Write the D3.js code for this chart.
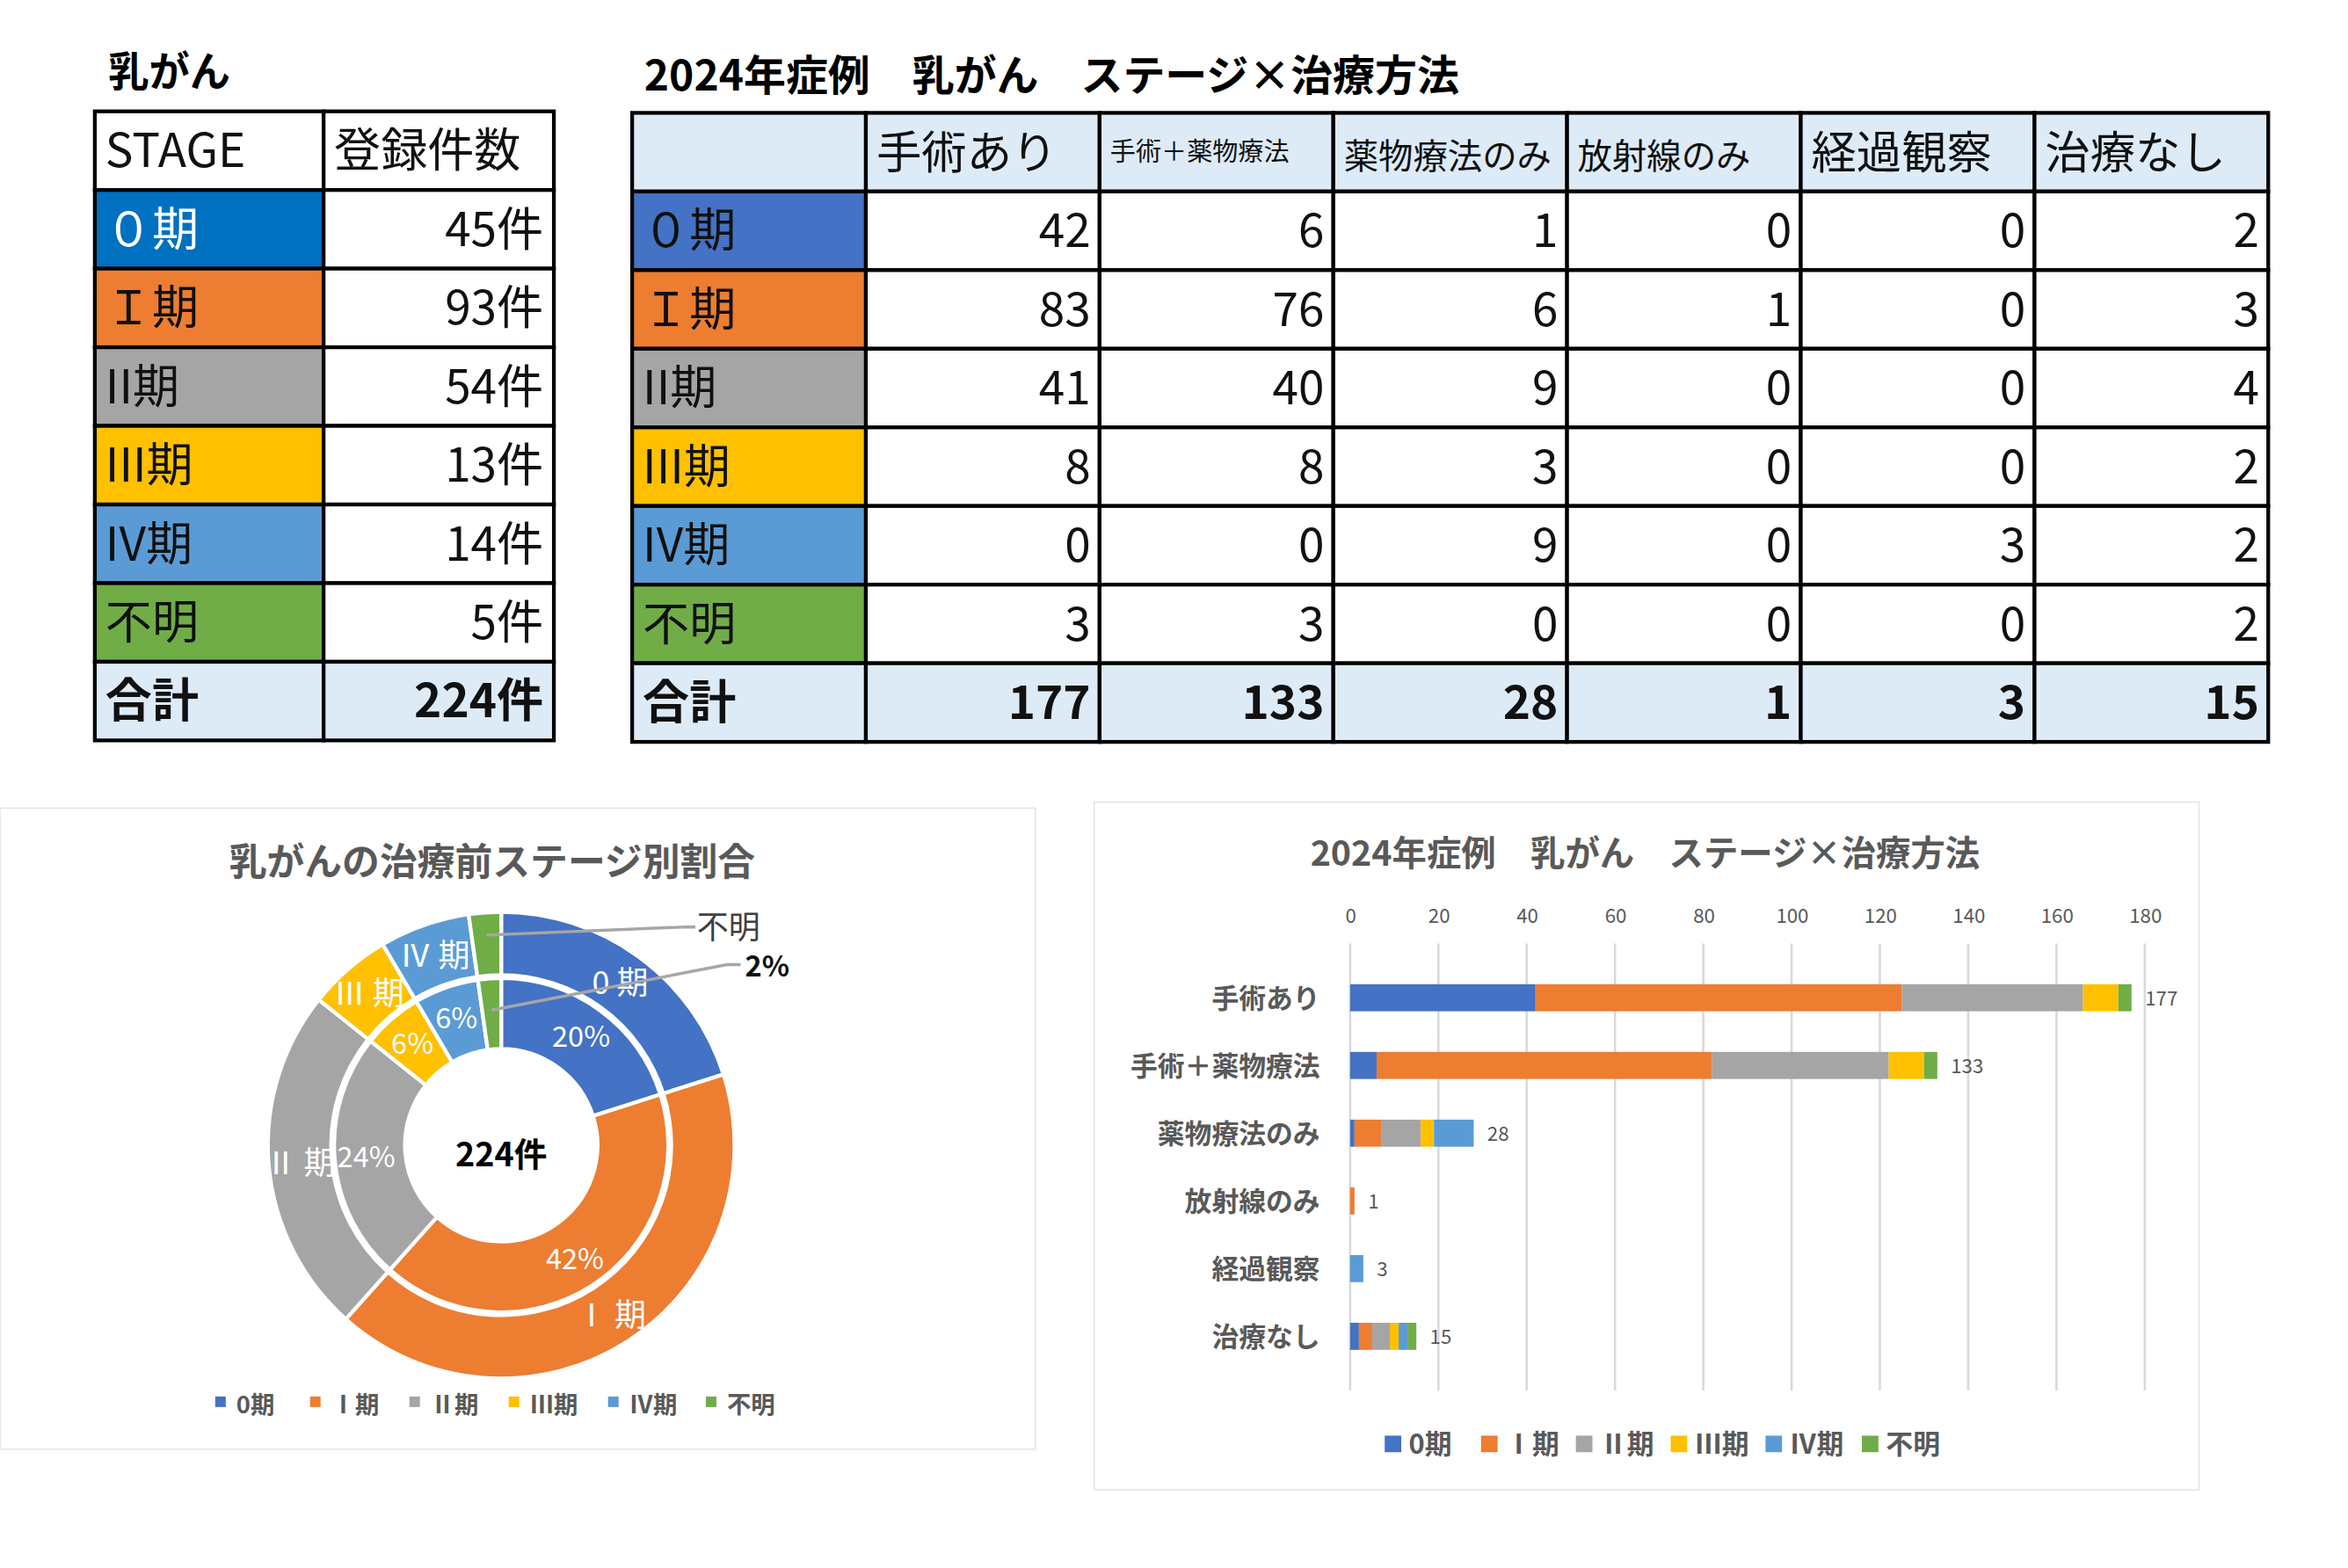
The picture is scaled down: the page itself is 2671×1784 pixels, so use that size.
<!DOCTYPE html>
<html><head><meta charset="utf-8">
<script src="https://cdn.jsdelivr.net/npm/d3@7"></script>
<style>body{margin:0;background:#fff}text{font-family:"Noto Sans CJK JP",sans-serif}</style>
</head><body><div id="chart"></div>
<script>
// data
const stages = ["0期", "Ⅰ期", "Ⅱ期", "Ⅲ期", "Ⅳ期", "不明"];
const stageCells = ["０期", "Ｉ期", "II期", "III期", "IV期", "不明"];
const stageCounts = [45, 93, 54, 13, 14, 5];
const treatments = ["手術あり", "手術＋薬物療法", "薬物療法のみ", "放射線のみ", "経過観察", "治療なし"];
// rows = stage, cols = treatment
const matrix = [
    [42, 6, 1, 0, 0, 2],
    [83, 76, 6, 1, 0, 3],
    [41, 40, 9, 0, 0, 4],
    [8, 8, 3, 0, 0, 2],
    [0, 0, 9, 0, 3, 2],
    [3, 3, 0, 0, 0, 2]
];
const pctLabels = ["20%", "42%", "24%", "6%", "6%", "2%"];
const xTicks = [0, 20, 40, 60, 80, 100, 120, 140, 160, 180];

const colors = ["#4472C4", "#ED7D31", "#A5A5A5", "#FFC000", "#5B9BD5", "#70AD47"];
const tableColors = ["#0070C0", "#ED7D31", "#A5A5A5", "#FFC000", "#5B9BD5", "#70AD47"];
const headBg = "#DDEBF7";

const width = 2671, height = 1784, k = width / 1560;
const svg = d3.select("#chart").append("svg").attr("width", width).attr("height", height);
const root = svg.append("g").attr("transform", `scale(${k})`);

// ---------- left table ----------
const lt = root.append("g");
lt.append("text").attr("x", 72).attr("y", 57).attr("font-size", 27).attr("font-weight", "bold").text("乳がん");
const lx = d3.scaleOrdinal().domain([0, 1]).range([63, 215]);
const rowY = d3.scaleLinear().domain([0, 8]).range([74, 492]);
const total = d3.sum(stageCounts);
const leftRows = [["STAGE", "登録件数", "#fff"]]
    .concat(stages.map((s, i) => [stageCells[i], stageCounts[i] + "件", tableColors[i]]))
    .concat([["合計", total + "件", headBg]]);
leftRows.forEach((r, i) => {
    const y0 = rowY(i), h = rowY(i + 1) - y0;
    const last = i === leftRows.length - 1;
    lt.append("rect").attr("x", 63).attr("y", y0).attr("width", 152).attr("height", h)
        .attr("fill", r[2]).attr("stroke", "#000").attr("stroke-width", 2.5);
    lt.append("rect").attr("x", 215).attr("y", y0).attr("width", 153).attr("height", h)
        .attr("fill", last ? headBg : "#fff").attr("stroke", "#000").attr("stroke-width", 2.5);
    const fw = last ? "bold" : "normal";
    lt.append("text").attr("x", 70).attr("y", y0 + h / 2 + 11).attr("font-size", 31).attr("font-weight", fw)
        .attr("fill", i === 1 ? "#fff" : "#111").text(r[0]);
    lt.append("text").attr("x", i === 0 ? 222 : 361).attr("y", y0 + h / 2 + 11).attr("font-size", 31)
        .attr("font-weight", fw).attr("text-anchor", i === 0 ? "start" : "end").attr("fill", "#111").text(r[1]);
});

// ---------- right table ----------
const rt = root.append("g");
rt.append("text").attr("x", 428).attr("y", 60).attr("font-size", 28).attr("font-weight", "bold")
    .text("2024年症例　乳がん　ステージ×治療方法");
const colX = d3.scaleLinear().domain([0, 7]).range([420, 1507]);
const rY = d3.scaleLinear().domain([0, 8]).range([75, 493]);
const totals = treatments.map((t, j) => d3.sum(matrix, r => r[j]));
for (let i = 0; i < 8; i++) {
    for (let c = 0; c < 7; c++) {
        const x0 = colX(c), y0 = rY(i), w = colX(c + 1) - x0, h = rY(i + 1) - y0;
        let fill = "#fff", txt = "", anchor = "end", fs = 31, fw = "normal", col = "#111";
        if (i === 0) { fill = headBg; if (c > 0) { txt = treatments[c - 1]; anchor = "start"; fs = c === 2 ? 17 : (c >= 3 && c <= 4 ? 23 : 30); } }
        else if (i === 7) { fill = headBg; fw = "bold"; txt = c === 0 ? "合計" : totals[c - 1]; if (c === 0) anchor = "start"; }
        else { if (c === 0) { fill = colors[i - 1]; txt = stageCells[i - 1]; anchor = "start"; } else txt = matrix[i - 1][c - 1]; }
        rt.append("rect").attr("x", x0).attr("y", y0).attr("width", w).attr("height", h)
            .attr("fill", fill).attr("stroke", "#000").attr("stroke-width", 2.5);
        if (txt !== "") rt.append("text").attr("x", anchor === "start" ? x0 + 7 : x0 + w - 6)
            .attr("y", y0 + h / 2 + (fs > 20 ? 11 : 6)).attr("font-size", fs).attr("font-weight", fw)
            .attr("text-anchor", anchor).attr("fill", col).text(txt);
    }
}

// ---------- donut ----------
const dg = root.append("g");
dg.append("rect").attr("x", 0).attr("y", 537).attr("width", 688).attr("height", 426).attr("fill", "#fff").attr("stroke", "#e6e6e6");
dg.append("text").attr("x", 327).attr("y", 582).attr("text-anchor", "middle").attr("font-size", 25)
    .attr("font-weight", "bold").attr("fill", "#595959").text("乳がんの治療前ステージ別割合");
const cx = 333, cy = 761;
const pie = d3.pie().sort(null).value(d => d);
const arcs = pie(stageCounts);
const outerArc = d3.arc().innerRadius(113).outerRadius(155);
const innerArc = d3.arc().innerRadius(64).outerRadius(111);
const dc = dg.append("g").attr("transform", `translate(${cx},${cy})`);
dc.selectAll(".o").data(arcs).enter().append("path").attr("d", outerArc)
    .attr("fill", (d, i) => colors[i]).attr("stroke", "#fff").attr("stroke-width", 2.5);
dc.selectAll(".n").data(arcs).enter().append("path").attr("d", innerArc)
    .attr("fill", (d, i) => colors[i]).attr("stroke", "#fff").attr("stroke-width", 2.5);
const lbl = d3.arc().innerRadius(134).outerRadius(134);
const lblIn = d3.arc().innerRadius(90).outerRadius(90);
arcs.forEach((a, i) => {
    if (i === 5) return;
    let [x, y] = lbl.centroid(a);
    if (i === 2) x -= 0;
    dc.append("text").attr("x", x).attr("y", y + 8).attr("text-anchor", "middle").attr("font-size", 21)
        .attr("fill", "#fff").attr("font-family", "Noto Serif CJK JP, serif").text(stages[i].replace("期", " 期"));
    const [xi, yi] = lblIn.centroid(a);
    dc.append("text").attr("x", xi).attr("y", yi + 7).attr("text-anchor", "middle").attr("font-size", 19)
        .attr("fill", "#fff").text(pctLabels[i]);
});
// leader lines for 不明
const [ox, oy] = d3.arc().innerRadius(140).outerRadius(140).centroid(arcs[5]);
const [ix, iy] = d3.arc().innerRadius(90).outerRadius(90).centroid(arcs[5]);
dc.append("polyline").attr("points", `${ox},${oy} ${455 - cx},${616 - cy} ${462 - cx},${616 - cy}`).attr("fill", "none").attr("stroke", "#a6a6a6").attr("stroke-width", 2);
dc.append("polyline").attr("points", `${ix},${iy} ${483 - cx},${641 - cy} ${492 - cx},${641 - cy}`).attr("fill", "none").attr("stroke", "#a6a6a6").attr("stroke-width", 2);
dg.append("text").attr("x", 463).attr("y", 624).attr("font-size", 21).attr("fill", "#404040").text("不明");
dg.append("text").attr("x", 495).attr("y", 649).attr("font-size", 19).attr("font-weight", "bold").attr("fill", "#111").text("2%");
dg.append("text").attr("x", cx).attr("y", cy + 14).attr("text-anchor", "middle").attr("font-size", 22)
    .attr("font-weight", "bold").text(total + "件");
// donut legend
const dlx = [143, 206, 272, 338, 404, 469];
stages.forEach((s, i) => {
    dg.append("rect").attr("x", dlx[i]).attr("y", 928).attr("width", 7).attr("height", 7).attr("fill", colors[i]);
    dg.append("text").attr("x", dlx[i] + 14).attr("y", 939).attr("font-size", 16).attr("font-weight", "bold")
        .attr("fill", "#595959").text(s);
});

// ---------- stacked bar ----------
const bg = root.append("g");
bg.append("rect").attr("x", 727).attr("y", 533).attr("width", 734).attr("height", 457).attr("fill", "#fff").attr("stroke", "#e6e6e6");
bg.append("text").attr("x", 1093).attr("y", 575).attr("text-anchor", "middle").attr("font-size", 23)
    .attr("font-weight", "bold").attr("fill", "#595959").text("2024年症例　乳がん　ステージ×治療方法");
const xScale = d3.scaleLinear().domain([0, 180]).range([897, 1425]);
const yScale = d3.scaleBand().domain(treatments).range([627, 924]).padding(0.6);
const xAxis = d3.axisTop(xScale).tickValues(xTicks).tickSize(0).tickPadding(0);
const ax = bg.append("g").attr("transform", "translate(0,613)").call(xAxis);
ax.select(".domain").remove();
ax.selectAll("text").attr("font-size", 13).attr("fill", "#595959").attr("font-family", "Liberation Sans, sans-serif");
bg.selectAll(".grid").data(xTicks).enter().append("line")
    .attr("x1", d => xScale(d)).attr("x2", d => xScale(d)).attr("y1", 627).attr("y2", 924)
    .attr("stroke", "#d9d9d9").attr("stroke-width", 1.5);
const stackData = treatments.map((t, j) => { const o = { t }; stages.forEach((s, i) => o[s] = matrix[i][j]); return o; });
const series = d3.stack().keys(stages)(stackData);
series.forEach((s, i) => {
    bg.selectAll(".b" + i).data(s).enter().append("rect")
        .attr("x", d => xScale(d[0])).attr("width", d => xScale(d[1]) - xScale(d[0]))
        .attr("y", d => yScale(d.data.t)).attr("height", yScale.bandwidth()).attr("fill", colors[i]);
});
treatments.forEach((t, j) => {
    const yc = yScale(t) + yScale.bandwidth() / 2;
    bg.append("text").attr("x", 877).attr("y", yc + 7).attr("text-anchor", "end").attr("font-size", 18)
        .attr("font-weight", "bold").attr("fill", "#595959").text(t);
    bg.append("text").attr("x", xScale(totals[j]) + 9).attr("y", yc + 5).attr("font-size", 13)
        .attr("fill", "#595959").attr("font-family", "Liberation Sans, sans-serif").text(totals[j]);
});
const blx = [920, 984, 1047, 1110, 1173, 1237];
stages.forEach((s, i) => {
    bg.append("rect").attr("x", blx[i]).attr("y", 954).attr("width", 11).attr("height", 11).attr("fill", colors[i]);
    bg.append("text").attr("x", blx[i] + 16).attr("y", 966).attr("font-size", 18).attr("font-weight", "bold")
        .attr("fill", "#595959").text(s);
});
</script></body></html>
